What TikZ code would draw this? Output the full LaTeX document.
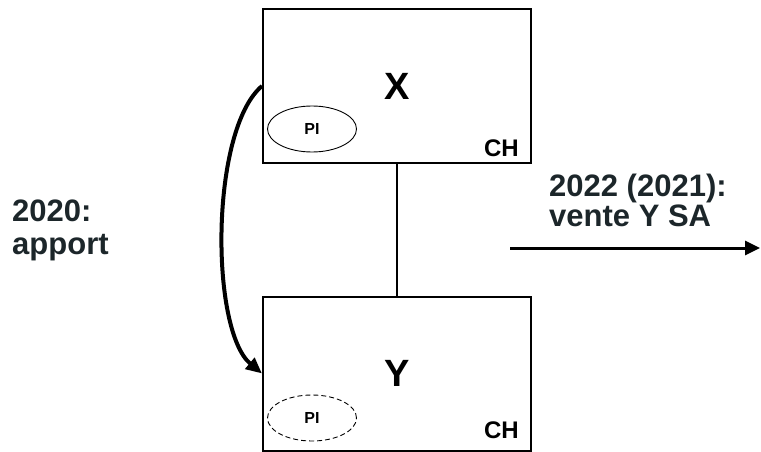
\documentclass[tikz,border=0pt]{standalone}
\usepackage{fontspec}
\setmainfont{Liberation Sans}
\usetikzlibrary{arrows.meta,positioning,shapes.geometric}
\definecolor{sombre}{RGB}{28,38,42}
\tikzset{
  boite/.style={draw,line width=2pt,minimum width=268pt,minimum height=154pt,inner sep=0pt},
  nom/.style={font=\fontsize{38}{40}\selectfont\bfseries},
  pays/.style={anchor=base east,inner sep=0pt,font=\fontsize{24}{26}\selectfont\bfseries},
  ovale/.style={ellipse,draw,line width=0.9pt,minimum width=89pt,minimum height=46pt,
    inner sep=0pt,font=\fontsize{16}{18}\selectfont\bfseries},
  lien/.style={line width=1.8pt},
  courbe/.style={line width=4pt,-{Triangle[length=16pt,width=14pt]}},
  fleche/.style={line width=3pt,-{Triangle[length=15pt,width=14pt]}},
  etiq/.style={anchor=north west,inner sep=0pt,align=left,text=sombre,
    font=\fontsize{31}{33}\selectfont\bfseries},
}

\begin{document}
\begin{tikzpicture}[x=1pt,y=-1pt]
  \useasboundingbox (0,0) rectangle (761,452);
  % les deux societes
  \node[boite] (bX) at (397,86) {};
  \node[boite] (bY) at (397,373.5) {};
  \node[nom] (nX) at (bX.center) {X};
  \node[nom] (nY) at (bY.center) {Y};
  \node[pays] (cX) at ([xshift=-13pt,yshift=8pt]bX.south east) {CH};
  \node[pays] (cY) at ([xshift=-13pt,yshift=13pt]bY.south east) {CH};
  \node[ovale] (pX) at (312,129) {PI};
  \node[ovale,dashed,dash pattern=on 5pt off 3pt] (pY) at (312,418) {PI};
  \draw[lien] (bX.south) -- (bY.north);
  % apport
  \draw[courbe] (bX.west) .. controls (210,130) and (210,330) .. (bY.west);
  \node[etiq] (t1) at (12,200) {2020:\\apport};
  % vente
  \node[etiq,font=\fontsize{31}{30}\selectfont\bfseries] (t2) at (549,174) {2022 (2021):\\vente Y SA};
  \coordinate (vA) at (510,248);
  \coordinate (vB) at (760,248);
  \draw[fleche] (vA) -- (vB);
\end{tikzpicture}
\end{document}
